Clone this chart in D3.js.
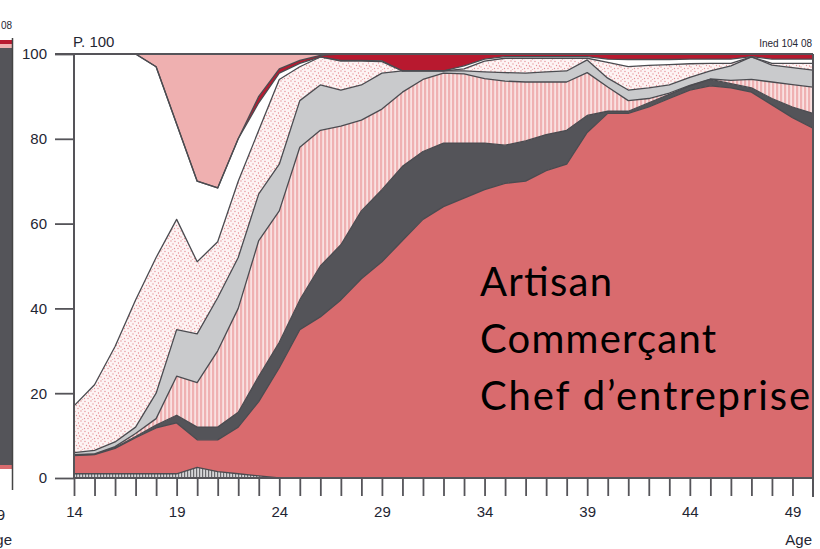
<!DOCTYPE html>
<html>
<head>
<meta charset="utf-8">
<script src="https://cdn.jsdelivr.net/npm/d3@7"></script>
<style>
  body { margin: 0; background: #fff; }
  svg { display: block; }
  .ax text { font-family: "Liberation Sans Narrow", "Liberation Sans", Arial, sans-serif; font-size: 15px; fill: #1f2633; }
</style>
</head>
<body>
<div id="chart"></div>
<script>
const width = 820, height = 549;

// ages (x categories)
const ages = [14,15,16,17,18,19,20,21,22,23,24,25,26,27,28,29,30,31,32,33,34,35,36,37,38,39,40,41,42,43,44,45,46,47,48,49,50];

// shares (%) per category, bottom to top
const grisHachure = [1,1,1,1,1,1,2.5,1.5,1,0.5,0,0,0,0,0,0,0,0,0,0,0,0,0,0,0,0,0,0,0,0,0,0,0,0,0,0,0];
const saumon = [4.3,4.5,6,8.5,10.8,12,6.5,7.5,11,17.5,26,35,38,42,47,51,56,61,64,66,68,69.5,70,72.5,74,81.5,86,86,87.5,89.5,91.5,92.5,92,91,88,85,82.5];
const grisFonce = [0.1,0.1,0.2,0.3,0.7,1.8,3,3,3.5,6,6,7,12,13,16,17,17.5,16,15,13,11,9,9.5,8.5,8,4,0.5,0.5,1,1,1,1.5,1,1,1.5,2.5,3.5];
const rayure = [0.1,0.1,0.2,0.7,1.5,9.2,10.5,18,24.5,32,31,36,32,28,21.4,19,17.5,17,16.5,16.3,15.2,15.1,13.9,12.4,11.4,10.1,5.7,2.5,1,0.3,0.1,0.1,0.8,2,3.9,5.3,6.2];
const grisClair = [0.5,0.8,1.1,1.5,6,11,11.5,12.5,12,11,11,11,10.7,8.5,8.3,8.5,5,2,0.5,0.7,1.6,2,2.1,2.4,2.6,3,2.1,2.5,2.5,1.9,1.9,1.9,3.4,5.3,4,4,4];
const pointille = [11,15.5,22.5,30,32,26,17,13.2,18,15,20,8,6.6,6.8,5.6,2.7,0,0,0,0.5,2.5,3.4,3.5,3.2,3,0.4,3.7,5.5,5.3,4.8,3.2,1.8,0.6,0,0.4,1,1.6];
const blanc = [83,78,69,58,45,22.5,19,12.7,10,6.5,1.5,0.8,0,0.2,0.2,0.2,0,0,0,0.7,0.5,0.4,0.4,0.4,0.4,0.4,0.8,1.7,1.4,1.2,1.1,1,1,0.1,1,1,1];
const rougeFonce = [0,0,0,0,0,0,0,0,0,1.5,1,0.7,0.4,1.5,1.5,1.6,4,4,4,2.8,1.2,0.6,0.6,0.6,0.6,0.6,1.2,1.3,1.3,1.3,1.2,1.2,1.2,0.6,1.2,1.2,1.2];
const rosePale = [0,0,0,0,3,16.5,30,31.6,20,10,3.5,1.5,0.3,0,0,0,0,0,0,0,0,0,0,0,0,0,0,0,0,0,0,0,0,0,0,0,0];

const yTicks = [0,20,40,60,80,100];
const xLabels = [14,19,24,29,34,39,44,49];
const labelLines = ["Artisan", "Commerçant", "Chef d\u2019entreprise"];
const labelWidths = [132, 236, 330];

const keys = ["grisHachure","saumon","grisFonce","rayure","grisClair","pointille","blanc","rougeFonce","rosePale"];
const series = {grisHachure, saumon, grisFonce, rayure, grisClair, pointille, blanc, rougeFonce, rosePale};
const fills = {
  grisHachure: "url(#hatchGray)", saumon: "#d96b6e", grisFonce: "#545459",
  rayure: "url(#stripePink)", grisClair: "#c9cacc", pointille: "url(#dotPink)",
  blanc: "#ffffff", rougeFonce: "#b8192f", rosePale: "#efb0b0"
};

const table = ages.map((a, i) => {
  const row = {age: a};
  keys.forEach(k => row[k] = series[k][i]);
  return row;
});

const x = d3.scaleLinear().domain([14, 50]).range([74, 813]);
const y = d3.scaleLinear().domain([0, 100]).range([478, 54]);

const svg = d3.select("#chart").append("svg")
    .attr("width", width)
    .attr("height", height);

const defs = svg.append("defs");

const ph = defs.append("pattern").attr("id", "hatchGray")
    .attr("patternUnits", "userSpaceOnUse").attr("width", 3).attr("height", 4);
ph.append("rect").attr("width", 3).attr("height", 4).attr("fill", "#d6d6d8");
ph.append("rect").attr("x", 1).attr("width", 1.2).attr("height", 4).attr("fill", "#6a6a6e");

const ps = defs.append("pattern").attr("id", "stripePink")
    .attr("patternUnits", "userSpaceOnUse").attr("width", 4).attr("height", 4);
ps.append("rect").attr("width", 4).attr("height", 4).attr("fill", "#f9e1e1");
ps.append("rect").attr("width", 2.2).attr("height", 4).attr("fill", "#efb1b2");

const pd = defs.append("pattern").attr("id", "dotPink")
    .attr("patternUnits", "userSpaceOnUse").attr("width", 10).attr("height", 10);
pd.append("rect").attr("width", 10).attr("height", 10).attr("fill", "#fdf4f4");
[[1,1],[5,1.5],[8.5,3],[3,4],[6.5,5.5],[1,7],[4.5,8.5],[8,8.5],[9.5,6],[2.5,9.8]].forEach(p => {
  pd.append("circle").attr("cx", p[0]).attr("cy", p[1]).attr("r", 0.65).attr("fill", "#e58f94");
});

defs.append("clipPath").attr("id", "plotClip")
  .append("rect").attr("x", 74).attr("y", 54).attr("width", 739).attr("height", 424);

const stack = d3.stack().keys(keys);
const stacked = stack(table);

const area = d3.area()
    .x(d => x(d.data.age))
    .y0(d => y(d[0]))
    .y1(d => y(d[1]));

const line = d3.line()
    .x(d => x(d.data.age))
    .y(d => y(d[1]));

const plot = svg.append("g").attr("clip-path", "url(#plotClip)");

plot.selectAll("path.layer")
  .data(stacked)
  .join("path")
    .attr("class", "layer")
    .attr("d", area)
    .attr("fill", d => fills[d.key]);

// outlines between layers
plot.selectAll("path.edge")
  .data(stacked.slice(0, -1))
  .join("path")
    .attr("class", "edge")
    .attr("d", line)
    .attr("fill", "none")
    .attr("stroke", "#4b4b50")
    .attr("stroke-width", 1.3)
    .attr("stroke-linejoin", "round");

// frame
svg.append("line").attr("x1", 55).attr("x2", 813).attr("y1", 54).attr("y2", 54)
  .attr("stroke", "#555459").attr("stroke-width", 2);
svg.append("line").attr("x1", 813).attr("x2", 813).attr("y1", 54).attr("y2", 497)
  .attr("stroke", "#555459").attr("stroke-width", 2);
svg.append("line").attr("x1", 74).attr("x2", 813).attr("y1", 478).attr("y2", 478)
  .attr("stroke", "#555459").attr("stroke-width", 2);
svg.append("line").attr("x1", 74).attr("x2", 74).attr("y1", 54).attr("y2", 478)
  .attr("stroke", "#555459").attr("stroke-width", 2);

// axes
const xAxis = d3.axisBottom(x)
    .tickValues(ages.slice(0, -1))
    .tickSize(18)
    .tickPadding(10)
    .tickFormat(d => xLabels.includes(d) ? d : "");
svg.append("g").attr("class", "ax")
    .attr("transform", "translate(0,478)")
    .call(xAxis)
    .call(g => g.select(".domain").remove())
    .call(g => g.selectAll(".tick line").attr("stroke", "#555459").attr("stroke-width", 1.8));

const yAxis = d3.axisLeft(y)
    .tickValues(yTicks)
    .tickSize(19)
    .tickPadding(8);
svg.append("g").attr("class", "ax")
    .attr("transform", "translate(74,0)")
    .call(yAxis)
    .call(g => g.select(".domain").remove())
    .call(g => g.selectAll(".tick line").attr("stroke", "#555459").attr("stroke-width", 1.8));

const small = "'Liberation Sans Narrow', 'Liberation Sans', Arial, sans-serif";
svg.append("text").attr("x", 73).attr("y", 47).text("P. 100")
  .attr("font-family", small).attr("font-size", 15).attr("fill", "#1f2633");
svg.append("text").attr("x", 812).attr("y", 47).attr("text-anchor", "end").text("Ined 104 08")
  .attr("font-family", small).attr("font-size", 10).attr("fill", "#1f2633");
svg.append("text").attr("x", 812).attr("y", 545).attr("text-anchor", "end").text("Age")
  .attr("font-family", small).attr("font-size", 15).attr("fill", "#1f2633");

// cropped neighbour panel on the left edge
const nb = svg.append("g");
nb.append("rect").attr("x", -3).attr("y", 40).attr("width", 15).attr("height", 4).attr("fill", "#b8192f");
nb.append("rect").attr("x", -3).attr("y", 44).attr("width", 15).attr("height", 4).attr("fill", "#efb0b0");
nb.append("rect").attr("x", -3).attr("y", 48).attr("width", 15).attr("height", 417).attr("fill", "#545459");
nb.append("rect").attr("x", -3).attr("y", 465).attr("width", 15).attr("height", 4).attr("fill", "#d96b6e");
nb.append("line").attr("x1", 12.5).attr("x2", 12.5).attr("y1", 38).attr("y2", 490).attr("stroke", "#444").attr("stroke-width", 1.5);
nb.append("text").attr("x", 12).attr("y", 29).attr("text-anchor", "end").text("08")
  .attr("font-family", small).attr("font-size", 10).attr("fill", "#1f2633");
nb.append("text").attr("x", 5).attr("y", 520).attr("text-anchor", "end").text("9")
  .attr("font-family", small).attr("font-size", 15).attr("fill", "#1f2633");
nb.append("text").attr("x", 12).attr("y", 545).attr("text-anchor", "end").text("ge")
  .attr("font-family", small).attr("font-size", 15).attr("fill", "#1f2633");

// big label
svg.append("g").selectAll("text")
  .data(labelLines)
  .join("text")
    .attr("x", 480)
    .attr("y", (d, i) => 296 + i * 57)
    .attr("font-family", "Lato, 'Open Sans', sans-serif")
    .attr("font-size", 40)
    .attr("fill", "#000")
    .attr("textLength", (d, i) => labelWidths[i])
    .attr("lengthAdjust", "spacing")
    .text(d => d);
</script>
</body>
</html>
